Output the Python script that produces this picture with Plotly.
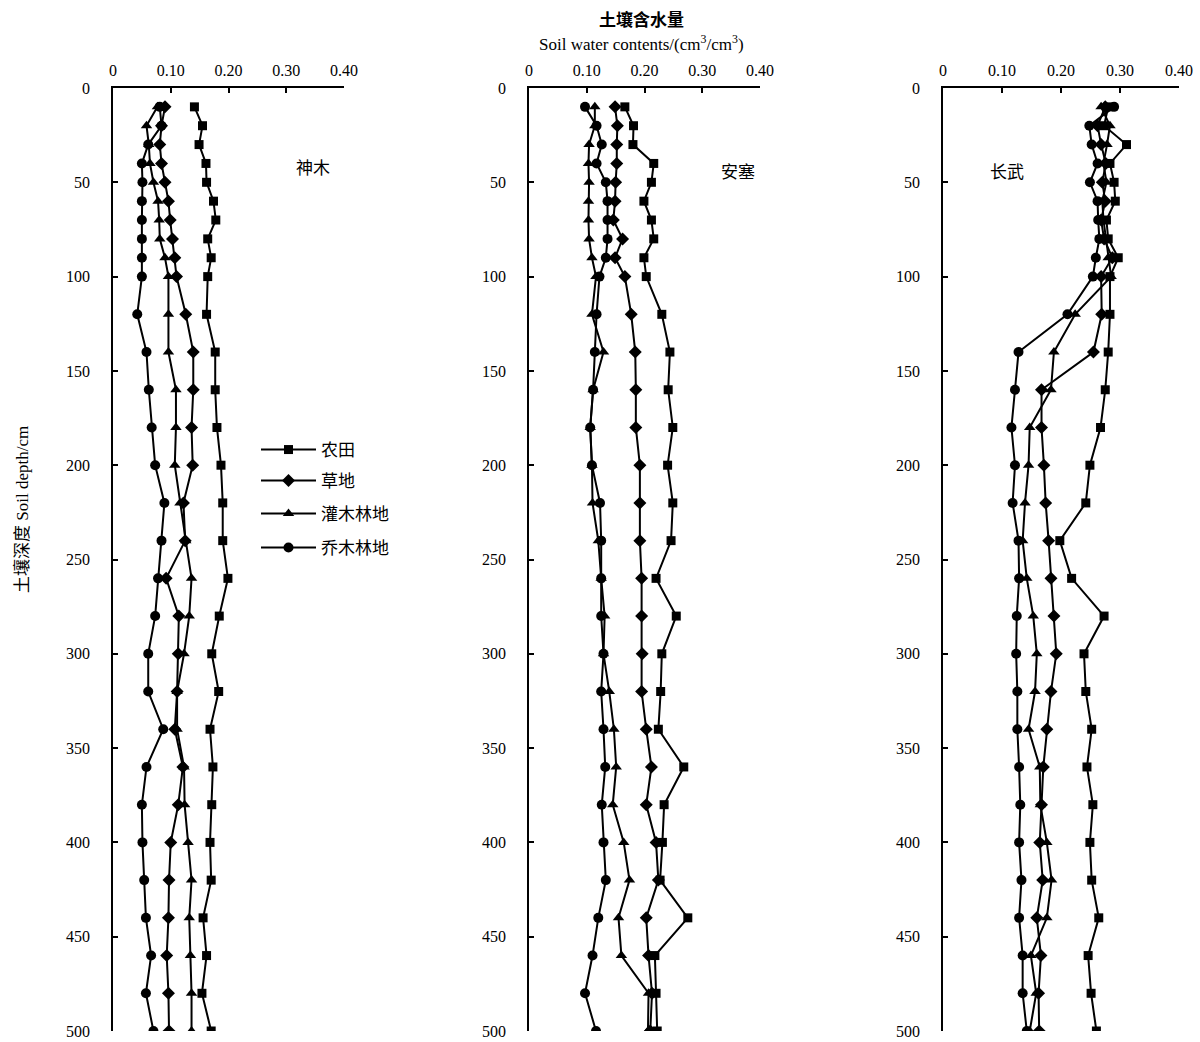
import plotly.graph_objects as go

depth = [10, 20, 30, 40, 50, 60, 70, 80, 90, 100, 120, 140, 160, 180, 200, 220, 240,
         260, 280, 300, 320, 340, 360, 380, 400, 420, 440, 460, 480, 500]

series_names = ["农田", "草地", "灌木林地", "乔木林地"]
site_names = ["神木", "安塞", "长武"]

# 神木 Shenmu
shenmu_farm = [0.141, 0.155, 0.149, 0.161, 0.162, 0.174, 0.178, 0.164, 0.170, 0.164, 0.162, 0.177, 0.177, 0.180, 0.187,
               0.190, 0.190, 0.199, 0.184, 0.171, 0.183, 0.168, 0.173, 0.171, 0.168, 0.170, 0.156, 0.162, 0.154, 0.170]
shenmu_grass = [0.090, 0.084, 0.081, 0.084, 0.090, 0.096, 0.099, 0.103, 0.107, 0.110, 0.126, 0.139, 0.139, 0.136, 0.138,
                0.122, 0.125, 0.092, 0.114, 0.113, 0.111, 0.107, 0.121, 0.113, 0.100, 0.097, 0.096, 0.093, 0.096, 0.097]
shenmu_shrub = [0.077, 0.058, 0.062, 0.064, 0.070, 0.078, 0.080, 0.081, 0.090, 0.096, 0.096, 0.096, 0.109, 0.109, 0.107,
                0.116, 0.126, 0.136, 0.132, 0.123, 0.111, 0.111, 0.123, 0.124, 0.130, 0.136, 0.132, 0.134, 0.136, 0.136]
shenmu_tree = [0.081, 0.084, 0.061, 0.050, 0.051, 0.050, 0.050, 0.050, 0.050, 0.050, 0.042, 0.058, 0.062, 0.067, 0.073,
               0.089, 0.084, 0.078, 0.073, 0.061, 0.061, 0.087, 0.058, 0.050, 0.051, 0.054, 0.057, 0.066, 0.057, 0.070]

# 安塞 Ansai
ansai_farm = [0.166, 0.181, 0.180, 0.216, 0.212, 0.199, 0.212, 0.216, 0.199, 0.203, 0.230, 0.244, 0.241, 0.249, 0.240,
              0.249, 0.246, 0.220, 0.255, 0.230, 0.228, 0.224, 0.268, 0.234, 0.231, 0.227, 0.275, 0.218, 0.220, 0.222]
ansai_grass = [0.149, 0.153, 0.152, 0.152, 0.150, 0.149, 0.146, 0.162, 0.149, 0.166, 0.177, 0.184, 0.185, 0.185, 0.192,
               0.192, 0.192, 0.195, 0.195, 0.196, 0.195, 0.203, 0.212, 0.203, 0.220, 0.224, 0.203, 0.207, 0.213, 0.210]
ansai_shrub = [0.114, 0.114, 0.104, 0.103, 0.104, 0.103, 0.103, 0.104, 0.109, 0.116, 0.109, 0.129, 0.111, 0.106, 0.109,
               0.110, 0.120, 0.125, 0.131, 0.129, 0.139, 0.147, 0.151, 0.145, 0.164, 0.174, 0.155, 0.160, 0.207, 0.206]
ansai_tree = [0.097, 0.117, 0.126, 0.117, 0.133, 0.136, 0.136, 0.136, 0.133, 0.122, 0.117, 0.114, 0.111, 0.106, 0.109,
              0.123, 0.125, 0.125, 0.125, 0.129, 0.125, 0.129, 0.132, 0.126, 0.129, 0.133, 0.120, 0.110, 0.097, 0.116]

# 长武 Changwu
changwu_farm = [0.280, 0.273, 0.311, 0.283, 0.290, 0.292, 0.277, 0.280, 0.297, 0.283, 0.283, 0.280, 0.275, 0.267, 0.249,
                0.242, 0.198, 0.218, 0.273, 0.239, 0.242, 0.252, 0.244, 0.254, 0.249, 0.252, 0.264, 0.246, 0.251, 0.260]
changwu_grass = [0.275, 0.262, 0.268, 0.276, 0.270, 0.275, 0.268, 0.273, 0.287, 0.268, 0.269, 0.255, 0.167, 0.167, 0.171,
                 0.174, 0.179, 0.183, 0.188, 0.192, 0.183, 0.176, 0.170, 0.167, 0.164, 0.169, 0.159, 0.166, 0.162, 0.163]
changwu_shrub = [0.268, 0.283, 0.278, 0.272, 0.277, 0.270, 0.272, 0.276, 0.280, 0.285, 0.224, 0.188, 0.183, 0.147, 0.145,
                 0.139, 0.135, 0.142, 0.153, 0.159, 0.156, 0.145, 0.164, 0.165, 0.176, 0.184, 0.176, 0.149, 0.158, 0.147]
changwu_tree = [0.290, 0.248, 0.252, 0.262, 0.249, 0.262, 0.263, 0.265, 0.259, 0.254, 0.211, 0.128, 0.122, 0.116, 0.122,
                0.118, 0.128, 0.129, 0.125, 0.124, 0.126, 0.126, 0.129, 0.131, 0.129, 0.133, 0.129, 0.135, 0.135, 0.142]

x_tickvals = [0, 0.1, 0.2, 0.3, 0.4]
x_ticktext = ["0", "0.10", "0.20", "0.30", "0.40"]
y_tickvals = [0, 50, 100, 150, 200, 250, 300, 350, 400, 450, 500]

W, H = 1200, 1042
SERIF = "Liberation Serif, Noto Sans CJK SC, serif"

panels = [
    [shenmu_farm, shenmu_grass, shenmu_shrub, shenmu_tree],
    [ansai_farm, ansai_grass, ansai_shrub, ansai_tree],
    [changwu_farm, changwu_grass, changwu_shrub, changwu_tree],
]
symbols = ["square", "diamond", "triangle-up", "circle"]
msizes = [9, 10, 10, 10]
legend_ids = ["legend", "legend2", "legend3", "legend4"]
legend_rows_px = [450, 481, 514, 548]

x_px = [(113, 344), (529, 760), (943, 1179)]
y_dom = [1 - 1031 / H, 1 - 88 / H]

fig = go.Figure()
for i, pdata in enumerate(panels):
    xa = "x" if i == 0 else f"x{i+1}"
    ya = "y" if i == 0 else f"y{i+1}"
    for j, vals in enumerate(pdata):
        fig.add_trace(go.Scatter(
            x=vals, y=depth, xaxis=xa, yaxis=ya, mode="lines+markers",
            name=series_names[j], showlegend=(i == 0), legend=legend_ids[j],
            line=dict(color="black", width=2),
            marker=dict(symbol=symbols[j], size=msizes[j], color="black"),
        ))
    sfx = "" if i == 0 else str(i + 1)
    fig.layout["xaxis" + sfx] = dict(
        domain=[x_px[i][0] / W, x_px[i][1] / W], range=[0, 0.4], side="top",
        anchor="y" + sfx, showline=True, linecolor="black", linewidth=1.5,
        ticks="inside", ticklen=5, tickcolor="black", tickwidth=1.5,
        tickvals=x_tickvals, ticktext=x_ticktext, showgrid=False, zeroline=False,
        tickfont=dict(family=SERIF, size=16, color="black"), ticklabelstandoff=4,
        automargin=False,
    )
    fig.layout["yaxis" + sfx] = dict(
        domain=y_dom, range=[500, 0], anchor="x" + sfx, showline=True,
        linecolor="black", linewidth=1.5, ticks="inside", ticklen=5,
        tickcolor="black", tickwidth=1.5, tickvals=y_tickvals, showgrid=False,
        zeroline=False, tickfont=dict(family=SERIF, size=16, color="black"),
        ticklabelstandoff=18, automargin=False,
    )

annos = [
    dict(text="神木", x=313 / W, y=1 - 168 / H),
    dict(text="安塞", x=738 / W, y=1 - 172 / H),
    dict(text="长武", x=1007 / W, y=1 - 172 / H),
    dict(text="<b>土壤含水量</b>", x=641 / W, y=1 - 20 / H),
    dict(text="Soil water contents/(cm<sup>3</sup>/cm<sup>3</sup>)", x=641 / W, y=1 - 43 / H),
    dict(text="土壤深度 Soil depth/cm", x=22 / W, y=1 - 510 / H, textangle=-90),
]
for a in annos:
    fig.add_annotation(xref="paper", yref="paper", showarrow=False,
                       xanchor="center", yanchor="middle",
                       font=dict(family=SERIF, size=17, color="black"), **a)

legend_common = dict(xanchor="left", yanchor="middle",
                     font=dict(family=SERIF, size=17, color="black"),
                     itemwidth=55, bgcolor="rgba(0,0,0,0)")
layout_legends = {}
for lid, row in zip(legend_ids, legend_rows_px):
    layout_legends[lid] = dict(x=256 / W, y=1 - row / H, **legend_common)

fig.update_layout(
    width=W, height=H, margin=dict(l=0, r=0, t=0, b=0, autoexpand=False),
    paper_bgcolor="white", plot_bgcolor="white",
    **layout_legends,
)

fig.write_html(
    "out.html",
    config={"displayModeBar": False},
    post_script="document.body.style.margin='0';document.body.style.padding='0';"
                "document.documentElement.style.overflow='hidden';",
)
